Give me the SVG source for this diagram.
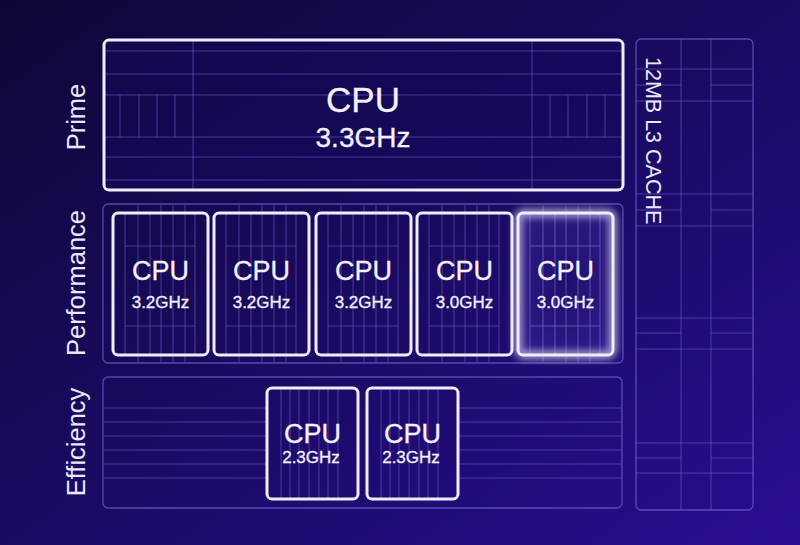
<svg xmlns="http://www.w3.org/2000/svg" width="800" height="545" viewBox="0 0 800 545">
<defs>
<linearGradient id="bg" x1="0" y1="0" x2="1" y2="1">
<stop offset="0" stop-color="#0e0736"/>
<stop offset="0.5" stop-color="#1a0a62"/>
<stop offset="1" stop-color="#2a0d92"/>
</linearGradient>
<filter id="glow" x="-30%" y="-30%" width="160%" height="160%">
<feGaussianBlur in="SourceGraphic" stdDeviation="4" result="b"/>
<feMerge><feMergeNode in="b"/><feMergeNode in="b"/><feMergeNode in="SourceGraphic"/></feMerge>
</filter>
<radialGradient id="g5" cx="0.5" cy="0.5" r="0.6">
<stop offset="0" stop-color="#22106e"/>
<stop offset="1" stop-color="#3a2696"/>
</radialGradient>
<style>
.grid{stroke:#7664d4;stroke-opacity:0.55;stroke-width:1;fill:none}
.faint{stroke:#6e5cc8;stroke-opacity:0.75;stroke-width:1.3;fill:none}
.bright{stroke:#f1ecff;stroke-width:3;fill:none}
.t{font-family:"Liberation Sans",Arial,sans-serif;fill:#f4f0ff;text-anchor:middle;stroke:#f4f0ff;stroke-width:0.3}
.big{font-size:35px}
.mid{font-size:28px}
.cpu{font-size:27px}
.ghz{font-size:17px}
.lab{font-family:"Liberation Sans",Arial,sans-serif;fill:#ece8ff;font-size:25.5px;text-anchor:middle}
</style>
</defs>
<rect width="800" height="545" fill="url(#bg)"/>

<g id="labels">
<text class="lab" transform="translate(85,117) rotate(-90)">Prime</text>
<text class="lab" transform="translate(85,283) rotate(-90)">Performance</text>
<text class="lab" transform="translate(85,442) rotate(-90)">Efficiency</text>
</g>

<g id="prime">
<rect x="104" y="40" width="519" height="150" rx="5" fill="#12075a" fill-opacity="0.5"/>
<g class="grid">
<path d="M104 51H622M104 74H622M104 95H622M104 137H622M104 157H622M104 180H622"/>
<path d="M193 41V189M532 41V189"/>
<path d="M120 95V137M139 95V137M157 95V137M175 95V137M550 95V137M568 95V137M587 95V137M605 95V137"/>
</g>
<rect class="bright" x="104" y="40" width="519" height="150" rx="5"/>
<text class="t big" x="363" y="112">CPU</text>
<text class="t mid" x="363" y="147">3.3GHz</text>
</g>

<g id="cache">
<rect class="faint" x="636" y="39" width="117" height="471" rx="5"/>
<g class="grid">
<path d="M681 39V510M711 39V510"/>
<path d="M636 69H753M636 101H753M636 194H753M636 226H753M636 318H753M636 349H753M636 443H753M636 473H753"/>
<path d="M636 85H681M711 85H753M636 210H681M711 210H753M636 333H681M711 333H753M636 458H681M711 458H753"/>
</g>
<text class="lab" style="text-anchor:start;font-size:21.5px" transform="translate(646,57) rotate(90)">12MB L3 CACHE</text>
</g>

<g id="performance">
<rect class="faint" x="103" y="204" width="520" height="159" rx="5"/>
<g class="grid">
<path d="M138 205V362M161 205V362M173 205V362M185 205V362M239 205V362M262 205V362M274 205V362M286 205V362M341 205V362M364 205V362M376 205V362M388 205V362M442 205V362M465 205V362M477 205V362M489 205V362M543 205V362M566 205V362M578 205V362M590 205V362"/>
<path d="M125 213V355M150 213V355M195 213V355M226 213V355M251 213V355M296 213V355M328 213V355M353 213V355M398 213V355M429 213V355M454 213V355M499 213V355M530 213V355M555 213V355M600 213V355"/>
<path d="M125 246H195M125 326H195M226 246H296M226 326H296M328 246H398M328 326H398M429 246H499M429 326H499M530 246H600M530 326H600"/>
</g>
</g>

<g id="perf-cpu-1">
<rect class="bright" x="113" y="213" width="95" height="142" rx="5"/>
<text class="t cpu" x="160.5" y="280">CPU</text>
<text class="t ghz" x="160.5" y="308">3.2GHz</text>
</g>
<g id="perf-cpu-2">
<rect class="bright" x="214" y="213" width="95" height="142" rx="5"/>
<text class="t cpu" x="261.5" y="280">CPU</text>
<text class="t ghz" x="261.5" y="308">3.2GHz</text>
</g>
<g id="perf-cpu-3">
<rect class="bright" x="316" y="213" width="95" height="142" rx="5"/>
<text class="t cpu" x="363.5" y="280">CPU</text>
<text class="t ghz" x="363.5" y="308">3.2GHz</text>
</g>
<g id="perf-cpu-4">
<rect class="bright" x="417" y="213" width="95" height="142" rx="5"/>
<text class="t cpu" x="464.5" y="280">CPU</text>
<text class="t ghz" x="464.5" y="308">3.0GHz</text>
</g>
<g id="perf-cpu-5">
<rect x="518" y="213" width="95" height="142" rx="5" fill="url(#g5)" fill-opacity="0.6"/>
<g class="grid"><path d="M530 213V355M543 213V355M555 213V355M566 213V355M578 213V355M590 213V355M600 213V355M530 246H600M530 326H600"/></g>
<rect class="bright" x="518" y="213" width="95" height="142" rx="5" filter="url(#glow)"/>
<text class="t cpu" x="565.5" y="280">CPU</text>
<text class="t ghz" x="565.5" y="308">3.0GHz</text>
</g>

<g id="efficiency">
<rect class="faint" x="103" y="377" width="519" height="131" rx="5"/>
<g class="grid">
<path d="M104 408H267M104 422H267M104 436H267M104 450H267M104 464H267M104 478H267"/>
<path d="M458 408H621M458 422H621M458 436H621M458 450H621M458 464H621M458 478H621"/>
<path d="M281 389V498M290 389V498M299 389V498M309 389V498M319 389V498M328 389V498M338 389V498"/>
<path d="M381 389V498M390 389V498M399 389V498M409 389V498M419 389V498M428 389V498M438 389V498"/>
</g>
</g>
<g id="eff-cpu-1">
<rect class="bright" x="267" y="388" width="91" height="111" rx="5"/>
<text class="t cpu" x="312.5" y="443">CPU</text>
<text class="t ghz" x="311" y="463">2.3GHz</text>
</g>
<g id="eff-cpu-2">
<rect class="bright" x="367" y="388" width="91" height="111" rx="5"/>
<text class="t cpu" x="412.5" y="443">CPU</text>
<text class="t ghz" x="411" y="463">2.3GHz</text>
</g>

<g id="connectors"></g>
</svg>
